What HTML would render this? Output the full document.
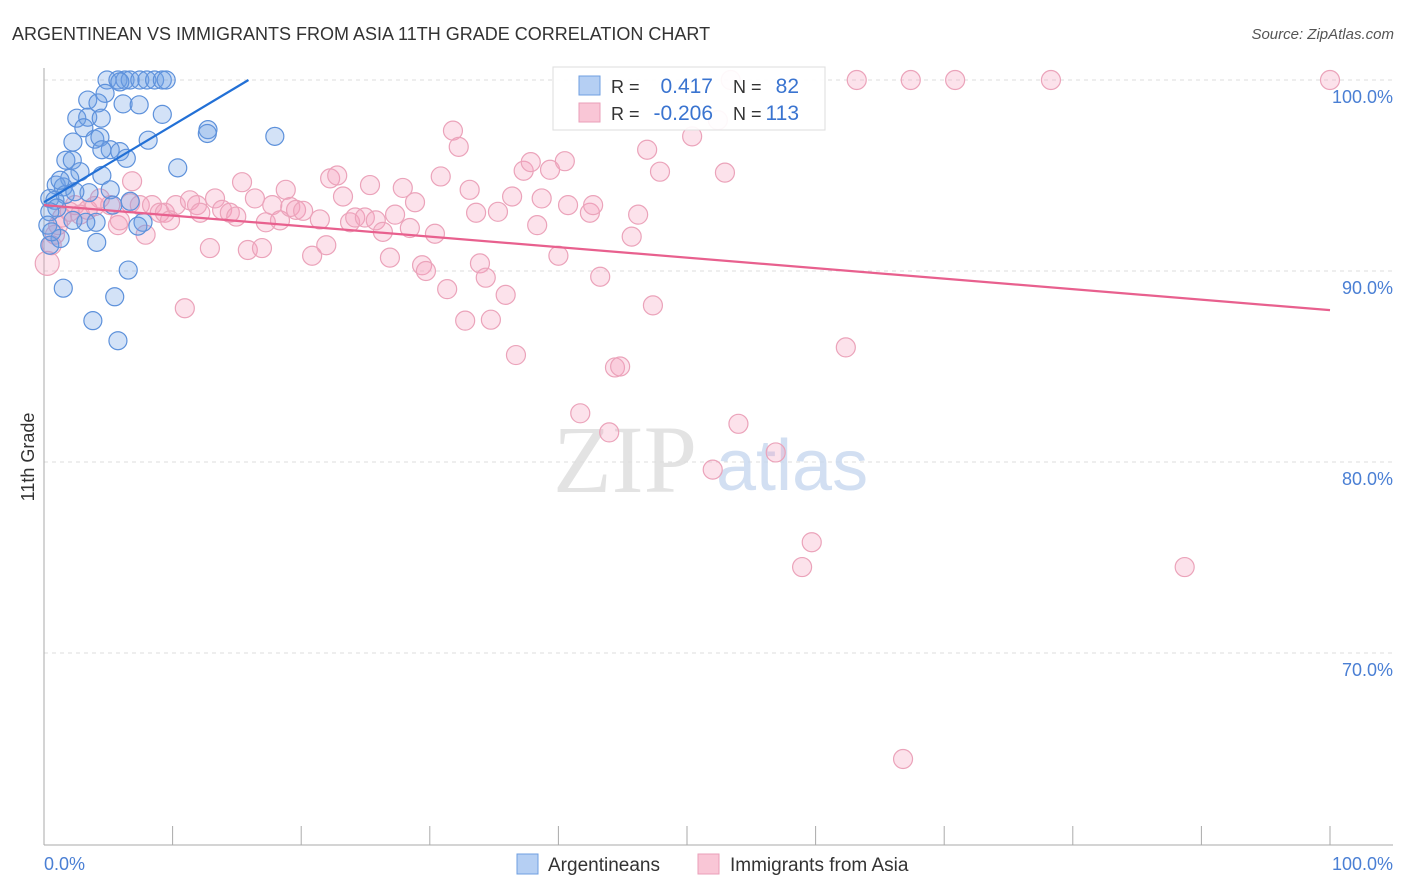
<!DOCTYPE html>
<html><head><meta charset="utf-8">
<style>
body{margin:0;background:#fff;font-family:"Liberation Sans",sans-serif;}
#c{position:relative;width:1406px;height:892px;overflow:hidden}
</style></head>
<body><div id="c">
<svg id="s" width="1406" height="892" xmlns="http://www.w3.org/2000/svg"></svg>
</div>
<script>
const blueX=[4.9,5.75,6.3,6.7,7.45,8.0,8.6,9.2,9.5,5.9,4.75,3.4,4.2,6.15,7.4,9.2,2.55,3.4,4.45,3.1,12.75,12.7,17.95,3.95,4.35,8.1,2.25,5.15,4.5,5.9,6.4,1.7,2.2,10.4,2.8,4.5,2.0,0.95,1.5,5.15,3.5,1.65,0.45,0.85,6.7,5.35,1.0,0.45,7.7,4.05,3.25,2.25,7.3,1.25,4.1,0.45,6.55,1.5,5.5,3.8,5.75,0.3,0.6,1.25,2.4];
const blueY=[100,100,100,100,100,100,100,100,100,99.9,99.3,98.95,98.8,98.75,98.7,98.2,98.0,98.05,98.0,97.5,97.4,97.2,97.05,96.9,97.0,96.85,96.75,96.35,96.35,96.25,95.9,95.8,95.8,95.4,95.2,95.0,94.85,94.5,94.4,94.25,94.1,94.0,93.8,93.7,93.65,93.45,93.3,93.1,92.55,92.55,92.55,92.65,92.35,91.7,91.5,91.35,90.05,89.1,88.65,87.4,86.35,92.4,92.05,94.75,94.15];
const pinkX=[0.25,0.6,0.85,1.1,1.4,2.0,2.4,2.8,3.4,3.95,4.35,5.15,5.75,5.9,6.7,6.85,7.45,7.9,8.4,9.0,9.4,9.8,10.25,10.95,11.35,11.9,12.15,12.9,13.3,13.85,14.45,14.95,15.4,15.85,16.4,16.95,17.25,17.75,18.35,18.8,19.15,19.6,20.15,20.85,21.45,21.95,22.25,22.8,23.25,23.8,24.2,24.95,25.35,25.8,26.35,26.9,27.3,27.9,28.45,28.85,29.4,29.7,30.4,30.85,31.35,31.8,32.25,32.75,33.1,33.6,33.9,34.35,34.75,35.3,35.9,36.4,36.7,37.3,37.85,38.35,38.7,39.35,40.0,40.5,40.75,41.7,42.45,42.7,43.25,43.95,44.4,44.8,45.7,46.2,46.9,47.35,47.9,50.4,52.0,52.4,52.95,53.4,54.0,56.9,58.95,59.7,62.35,63.2,66.8,67.4,70.85,78.3,88.7,100];
const pinkY=[90.4,91.35,91.9,92.4,92.8,93.1,93.45,92.95,93.2,93.4,93.8,93.45,92.4,92.65,93.55,94.7,93.45,91.9,93.45,93.05,93.05,92.65,93.45,88.05,93.7,93.45,93.05,91.2,93.8,93.2,93.05,92.85,94.65,91.1,93.8,91.2,92.55,93.45,92.65,94.25,93.35,93.2,93.15,90.8,92.7,91.35,94.85,95.0,93.9,92.55,92.8,92.8,94.5,92.65,92.05,90.7,92.95,94.35,92.25,93.6,90.3,90.0,91.95,94.95,89.05,97.35,96.5,87.4,94.25,93.05,90.4,89.65,87.45,93.1,88.75,93.9,85.6,95.25,95.7,92.4,93.8,95.3,90.8,95.75,93.45,82.55,93.05,93.45,89.7,81.55,84.95,85.0,91.8,92.95,96.35,88.2,95.2,97.05,79.6,97.9,95.15,100,82.0,80.5,74.5,75.8,86.0,100,64.45,100,100,100,74.5,100];
const blueTrend=[[0,93.6],[15.9,100]];
const pinkTrend=[[0,93.45],[100,87.95]];
const yTicks=[100,90,80,70];
const xTicks=[0,10,20,30,40,50,60,70,80,90,100];

const NS="http://www.w3.org/2000/svg";
const svg=document.getElementById('s');
const X=v=>44+v*12.86;
const Y=v=>80+(100-v)*19.1;
function mk(t,a,p){const e=document.createElementNS(NS,t);for(const k in a)e.setAttribute(k,a[k]);(p||svg).appendChild(e);return e;}

// title
let t=mk('text',{x:12,y:40,'font-size':18,fill:'#333'});t.textContent='ARGENTINEAN VS IMMIGRANTS FROM ASIA 11TH GRADE CORRELATION CHART';


t=mk('text',{x:1394,y:39,'font-size':15,fill:'#555','font-style':'italic','text-anchor':'end'});t.textContent='Source: ZipAtlas.com';



// gridlines & y labels
yTicks.forEach(v=>{
  const g=mk('line',{x1:44,x2:1393,y1:Y(v),y2:Y(v),stroke:'#ddd','stroke-dasharray':'4,4'});
  
  
  const l=mk('text',{x:1393,y:Y(v)+23,'font-size':18,fill:'#4a7fd4','text-anchor':'end'});l.textContent=v.toFixed(1)+'%';
  
  
});
// axes
let a=mk('line',{x1:44,x2:44,y1:68,y2:845,stroke:'#aaa'});


a=mk('line',{x1:44,x2:1393,y1:845,y2:845,stroke:'#aaa'});


xTicks.forEach(v=>{
  const k=mk('line',{x1:X(v),x2:X(v),y1:826,y2:845,stroke:'#aaa'});
  
  
});
t=mk('text',{x:44,y:870,'font-size':18,fill:'#4a7fd4'});t.textContent='0.0%';


t=mk('text',{x:1393,y:870,'font-size':18,fill:'#4a7fd4','text-anchor':'end'});t.textContent='100.0%';


t=mk('text',{x:34,y:457,'font-size':18,fill:'#333','text-anchor':'middle',transform:'rotate(-90 34 457)'});t.textContent='11th Grade';



// watermark
t=mk('text',{x:553,y:492,'font-size':96,fill:'#ddd','font-family':'Liberation Serif',opacity:0.8});t.textContent='ZIP';


t=mk('text',{x:716,y:490,'font-size':72,fill:'#c8d8ef',opacity:0.8});t.textContent='atlas';



// points
pinkX.forEach((x,i)=>{
  const c=mk('circle',{cx:X(x),cy:Y(pinkY[i]),r:i===0?12:9.5,fill:'rgba(244,160,188,0.3)',stroke:'#eba3ba','stroke-width':1.2});
  
  
});
blueX.forEach((x,i)=>{
  const c=mk('circle',{cx:X(x),cy:Y(blueY[i]),r:9,fill:'rgba(110,160,230,0.3)',stroke:'#5d91db','stroke-width':1.2});
  
  
});
// trends
let ln=mk('line',{x1:X(pinkTrend[0][0]),y1:Y(pinkTrend[0][1]),x2:X(pinkTrend[1][0]),y2:Y(pinkTrend[1][1]),stroke:'#e8608e','stroke-width':2.2});


ln=mk('line',{x1:X(blueTrend[0][0]),y1:Y(blueTrend[0][1]),x2:X(blueTrend[1][0]),y2:Y(blueTrend[1][1]),stroke:'#2270d6','stroke-width':2.2});



// stats legend
const lg=mk('g',{});


mk('rect',{x:553,y:67,width:272,height:63,fill:'rgba(255,255,255,0.92)',stroke:'#ddd'},lg);
mk('rect',{x:579,y:76,width:21,height:19,fill:'#b5cff3',stroke:'#6f9fe0'},lg);
mk('rect',{x:579,y:103,width:21,height:19,fill:'#f9c6d6',stroke:'#ea9fb8'},lg);
[['R = ',611,93,'#333'],['0.417',713,93,'#3a74d0','end'],['N = ',733,93,'#333'],['82',799,93,'#3a74d0','end'],
 ['R = ',611,120,'#333'],['-0.206',713,120,'#3a74d0','end'],['N = ',733,120,'#333'],['113',799,120,'#3a74d0','end']].forEach(d=>{
  const e=mk('text',{x:d[1],y:d[2],'font-size':d[3]==='#333'?18:21,fill:d[3],'text-anchor':d[4]||'start'},lg);e.textContent=d[0];
});

// bottom legend
[[517,'#b5cff3','#6f9fe0','Argentineans',548],[698,'#f9c6d6','#ea9fb8','Immigrants from Asia',730]].forEach(d=>{
  const g=mk('g',{});
  
  
  mk('rect',{x:d[0],y:854,width:21,height:20,fill:d[1],stroke:d[2]},g);
  const e=mk('text',{x:d[4],y:871,'font-size':19,fill:'#333'},g);e.textContent=d[3];
});
</script>
</body></html>
